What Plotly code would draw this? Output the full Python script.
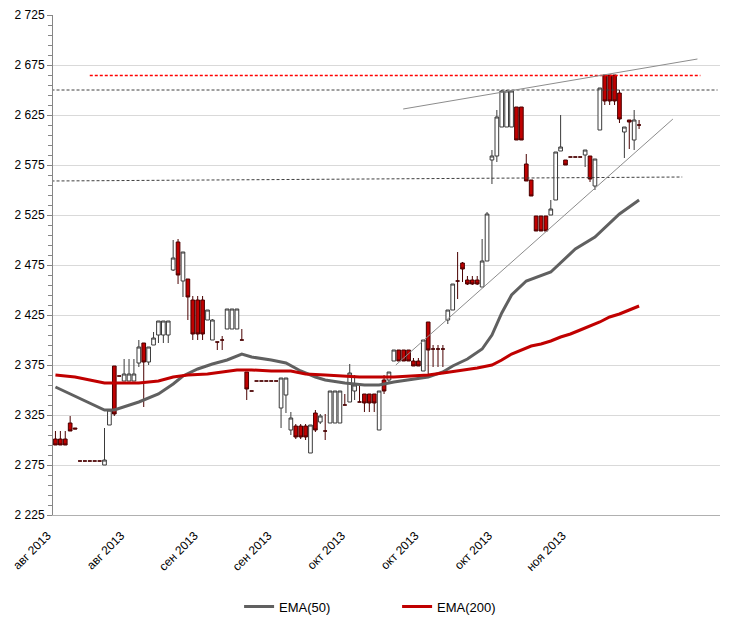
import plotly.graph_objects as go

# ---- candle data (index = trading-day position on the axis) ----
OPEN = [2301, 2301, 2301, 2317, 2312, 2279, 2279, 2279, 2279, 2279,
        2275, 2315, 2374, 2364, 2359, 2359, 2359, 2377, 2397, 2378,
        2395, 2405, 2405, 2405, 2470, 2498, 2459, 2461, 2440, 2440,
        2440, 2420, 2400, 2398, 2400, 2411, 2411, 2411, 2400, 2368,
        2349, 2359, 2359, 2359, 2359, 2359, 2332, 2345, 2310, 2314,
        2314, 2314, 2287, 2327, 2318, 2309, 2317, 2317, 2317, 2335,
        2338, 2349, 2338, 2346, 2346, 2346, 2310, 2360, 2360, 2379,
        2390, 2390, 2390, 2379, 2379, 2369, 2418, 2391, 2391, 2391,
        2420, 2430, 2459, 2477, 2460, 2460, 2460, 2453, 2479, 2580,
        2584, 2613, 2613, 2613, 2633, 2633, 2576, 2560, 2524, 2524,
        2524, 2525, 2540, 2589, 2580, 2583, 2583, 2583, 2585, 2584,
        2554, 2610, 2665, 2665, 2665, 2647, 2608, 2620, 2600, 2615]
HIGH = [2309, 2309, 2309, 2324, 2312, 2279, 2279, 2279, 2279, 2279,
        2312, 2330, 2374, 2364, 2381, 2381, 2381, 2400, 2397, 2393,
        2408, 2419, 2419, 2419, 2500, 2501, 2488, 2461, 2444, 2444,
        2444, 2430, 2421, 2398, 2404, 2431, 2431, 2431, 2411, 2368,
        2349, 2359, 2359, 2359, 2359, 2359, 2362, 2362, 2328, 2316,
        2316, 2316, 2315, 2330, 2326, 2326, 2349, 2349, 2349, 2346,
        2376, 2365, 2357, 2346, 2346, 2346, 2349, 2365, 2368, 2390,
        2390, 2390, 2390, 2382, 2382, 2400, 2418, 2395, 2395, 2395,
        2430, 2456, 2488, 2478, 2464, 2464, 2464, 2501, 2528, 2590,
        2630, 2650, 2650, 2650, 2633, 2633, 2586, 2560, 2524, 2524,
        2524, 2540, 2588, 2625, 2580, 2583, 2583, 2583, 2590, 2584,
        2581, 2652, 2665, 2665, 2665, 2650, 2613, 2620, 2630, 2620]
LOW = [2295, 2295, 2295, 2309, 2311, 2279, 2279, 2279, 2279, 2279,
       2275, 2315, 2324, 2364, 2359, 2359, 2359, 2373, 2333, 2375,
       2395, 2397, 2397, 2397, 2469, 2456, 2443, 2420, 2400, 2400,
       2400, 2420, 2400, 2390, 2390, 2411, 2411, 2411, 2400, 2340,
       2349, 2359, 2359, 2359, 2359, 2359, 2312, 2327, 2305, 2301,
       2301, 2300, 2287, 2308, 2316, 2300, 2317, 2317, 2317, 2335,
       2338, 2340, 2338, 2328, 2328, 2328, 2310, 2346, 2356, 2379,
       2379, 2379, 2379, 2374, 2374, 2369, 2366, 2373, 2373, 2373,
       2416, 2430, 2441, 2458, 2455, 2455, 2455, 2453, 2479, 2556,
       2578, 2613, 2613, 2613, 2600, 2600, 2559, 2544, 2509, 2509,
       2509, 2525, 2540, 2589, 2575, 2583, 2583, 2583, 2573, 2558,
       2550, 2610, 2635, 2635, 2635, 2617, 2582, 2591, 2590, 2611]
CLOSE = [2295, 2295, 2295, 2309, 2311, 2279, 2279, 2279, 2279, 2279,
         2280, 2330, 2326, 2364, 2366, 2366, 2366, 2393, 2378, 2393,
         2402, 2419, 2419, 2419, 2482, 2465, 2488, 2443, 2406, 2406,
         2406, 2430, 2420, 2398, 2400, 2431, 2431, 2431, 2400, 2351,
         2349, 2359, 2359, 2359, 2359, 2359, 2362, 2362, 2322, 2303,
         2303, 2303, 2315, 2310, 2324, 2309, 2349, 2349, 2349, 2335,
         2367, 2355, 2338, 2337, 2337, 2337, 2349, 2349, 2368, 2390,
         2379, 2379, 2379, 2374, 2374, 2400, 2390, 2391, 2391, 2391,
         2430, 2456, 2459, 2471, 2456, 2456, 2456, 2479, 2526, 2584,
         2623, 2649, 2649, 2649, 2600, 2600, 2559, 2544, 2509, 2509,
         2509, 2531, 2588, 2593, 2575, 2583, 2583, 2583, 2590, 2561,
         2581, 2652, 2639, 2639, 2639, 2621, 2613, 2618, 2620, 2615]

# ---- moving averages (read at sample positions) ----
EMA50_IDX = [0, 4, 7, 10, 12, 15, 17, 21, 24, 26, 29, 32, 35, 38, 40, 44, 47, 50,
             53, 55, 59, 63, 66, 69, 72, 76, 79, 81, 84, 87, 89, 91, 93, 96, 101,
             106, 110, 115, 119]
EMA50 = [2353, 2344, 2337, 2330, 2330, 2335, 2338, 2346, 2356, 2364, 2371, 2376,
         2380, 2386, 2383, 2380, 2377, 2369, 2363, 2360, 2357, 2355, 2355, 2358,
         2360, 2363, 2368, 2374, 2381, 2391, 2405, 2427, 2445, 2459, 2468, 2491,
         2503, 2526, 2540]
EMA200_IDX = [0, 4, 7, 10, 14, 17, 21, 24, 27, 31, 34, 37, 40, 44, 48, 51, 55, 62,
              69, 72, 76, 79, 82, 86, 89, 91, 93, 95, 97, 99, 101, 103, 105, 107,
              109, 111, 113, 115, 117, 119]
EMA200 = [2365, 2363, 2360, 2357, 2357, 2357, 2359, 2363, 2365, 2366, 2368, 2370,
          2370, 2369, 2369, 2366, 2365, 2363, 2363, 2364, 2365, 2367, 2369, 2372,
          2375, 2380, 2386, 2390, 2394, 2396, 2399, 2403, 2406, 2410, 2414, 2418,
          2423, 2426, 2430, 2434]

# ---- drawn levels / trend lines (axis index, price) ----
LEVEL_RED_X = [7, 131.5]
LEVEL_RED_Y = [2664.5, 2664.5]
LEVEL_TOP_X = [-0.8, 135]
LEVEL_TOP_Y = [2650, 2650]
LEVEL_LOW_X = [-0.8, 127.8]
LEVEL_LOW_Y = [2559, 2563]
TREND_TOP_X = [70.9, 130.9]
TREND_TOP_Y = [2631, 2681]
TREND_SUP_X = [69.4, 125.9]
TREND_SUP_Y = [2375, 2621]

# ---- axes ----
TICK_POS = [0, 15, 30, 45, 60, 75, 90, 105]
TICK_TEXT = ["авг 2013", "авг 2013", "сен 2013", "сен 2013",
             "окт 2013", "окт 2013", "окт 2013", "ноя 2013"]
Y_TICKS = [2225, 2275, 2325, 2375, 2425, 2475, 2525, 2575, 2625, 2675, 2725]
Y_TICK_TEXT = ["2 225", "2 275", "2 325", "2 375", "2 425", "2 475",
               "2 525", "2 575", "2 625", "2 675", "2 725"]

FONT = "Liberation Sans"

X = list(range(len(OPEN)))
up = [i for i in X if CLOSE[i] > OPEN[i]]
dn = [i for i in X if CLOSE[i] <= OPEN[i]]

def pick(arr, ids):
    return [arr[i] for i in ids]

fig = go.Figure()

for xs_, ys_, col, dash, w in [
    (LEVEL_TOP_X, LEVEL_TOP_Y, "#404040", "3px,2px", 1),
    (LEVEL_LOW_X, LEVEL_LOW_Y, "#404040", "3px,2px", 1),
    (LEVEL_RED_X, LEVEL_RED_Y, "#ff0000", "3px,2px", 1.3),
    (TREND_TOP_X, TREND_TOP_Y, "#8c8c8c", "solid", 1),
    (TREND_SUP_X, TREND_SUP_Y, "#8c8c8c", "solid", 1),
]:
    fig.add_trace(go.Scatter(x=xs_, y=ys_, mode="lines",
                             line=dict(color=col, width=w, dash=dash),
                             showlegend=False, hoverinfo="skip"))

fig.add_trace(go.Scatter(x=EMA50_IDX, y=EMA50, mode="lines", name="EMA(50)",
                         line=dict(color="#606060", width=3)))
fig.add_trace(go.Scatter(x=EMA200_IDX, y=EMA200, mode="lines", name="EMA(200)",
                         line=dict(color="#c00000", width=3)))

up_style = dict(line=dict(color="#3a3a3a", width=1), fillcolor="#ffffff")
dn_style = dict(line=dict(color="#4a0000", width=1), fillcolor="#c00000")
fig.add_trace(go.Candlestick(x=pick(X, up), open=pick(OPEN, up), high=pick(HIGH, up),
                             low=pick(LOW, up), close=pick(CLOSE, up),
                             increasing=up_style, decreasing=up_style,
                             showlegend=False, whiskerwidth=0))
fig.add_trace(go.Candlestick(x=pick(X, dn), open=pick(OPEN, dn), high=pick(HIGH, dn),
                             low=pick(LOW, dn), close=pick(CLOSE, dn),
                             increasing=dn_style, decreasing=dn_style,
                             showlegend=False, whiskerwidth=0))

fig.update_layout(
    width=730, height=617,
    margin=dict(l=53, r=10, t=15, b=102, autoexpand=False),
    paper_bgcolor="white", plot_bgcolor="white",
    font=dict(family=FONT, size=12, color="black"),
    boxgap=0.25, boxgroupgap=0.0,
    xaxis=dict(range=[-0.5, 135.5], tickmode="array", tickvals=TICK_POS,
               ticktext=TICK_TEXT, tickangle=-45, showgrid=False, zeroline=False,
               showline=True, linecolor="#b0b0b0", linewidth=1, ticks="",
               rangeslider=dict(visible=False), tickfont=dict(size=12),
               automargin=False, ticklabelstandoff=8, ticklabelshift=-8),
    yaxis=dict(range=[2225, 2725], tickmode="array", tickvals=Y_TICKS,
               ticktext=Y_TICK_TEXT, showgrid=True, gridcolor="#d9d9d9", gridwidth=1,
               zeroline=False, showline=True, linecolor="#868686", linewidth=1,
               ticks="outside", ticklen=5, tickcolor="#868686",
               minor=dict(tick0=2225, dtick=10, ticks="outside", ticklen=4,
                          tickcolor="#868686", showgrid=False),
               tickfont=dict(size=12), automargin=False),
    legend=dict(orientation="h", x=0.279, xanchor="left", y=-0.153, yanchor="top",
                font=dict(size=13), entrywidth=113, entrywidthmode="pixels",
                bgcolor="rgba(0,0,0,0)"),
    showlegend=True,
)

fig.write_html(
    "out.html",
    config={"displayModeBar": False},
    post_script="document.body.style.margin='0px';document.body.style.overflow='hidden';",
)
